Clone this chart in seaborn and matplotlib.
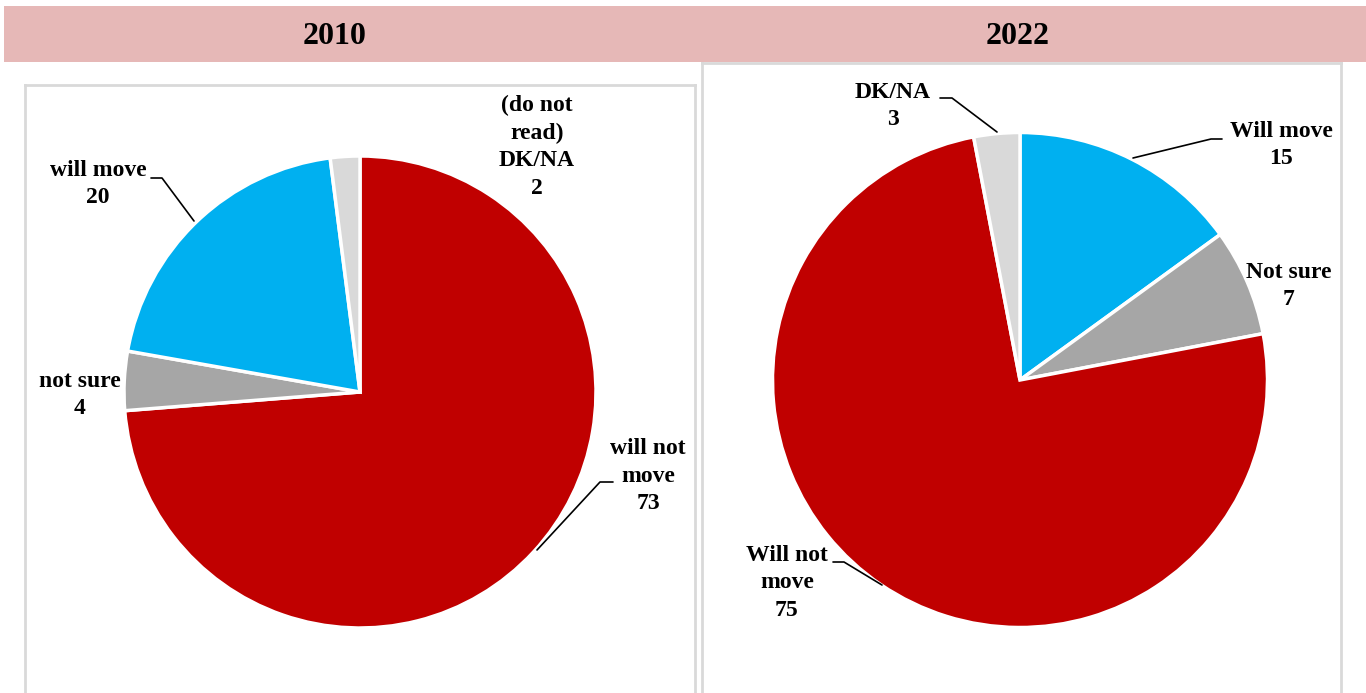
import matplotlib
matplotlib.use("Agg")
import matplotlib.pyplot as plt
import seaborn as sns

# data
years = ["2010", "2022"]
labels_2010 = ["will not\nmove", "not sure", "will move", "(do not\nread)\nDK/NA"]
values_2010 = [73, 4, 20, 2]
labels_2022 = ["Will move", "Not sure", "Will not\nmove", "DK/NA"]
values_2022 = [15, 7, 75, 3]

RED, BLUE, GREY, LIGHT = "#C00000", "#00B0F0", "#A6A6A6", "#D9D9D9"
colors_2010 = [RED, GREY, BLUE, LIGHT]
colors_2022 = [BLUE, GREY, RED, LIGHT]

sns.set_theme(style="white")
plt.rcParams["font.family"] = ["Liberation Serif", "DejaVu Serif"]
plt.rcParams["font.weight"] = "bold"
plt.rcParams["text.color"] = "black"

W, H = 1366, 693
fig = plt.figure(figsize=(W / 100, H / 100), dpi=100)
fig.patch.set_facecolor("white")


def panel(box, center, radius):
    # box = (x0, y0, x1, y1) in pixels, y from top
    x0, y0, x1, y1 = box
    ax = fig.add_axes([x0 / W, (H - y1) / H, (x1 - x0) / W, (y1 - y0) / H])
    cx, cy = center
    conv = lambda px, py: ((px - cx) / radius, (cy - py) / radius)
    return ax, conv, ((x0 - cx) / radius, (x1 - cx) / radius), ((cy - y1) / radius, (cy - y0) / radius)


def draw_pie(ax, values, colors, xlim, ylim):
    ax.pie(values, colors=colors, startangle=90, counterclock=False, radius=1,
           wedgeprops=dict(edgecolor="white", linewidth=2.5))
    ax.set_aspect("auto")
    ax.set_xlim(*xlim)
    ax.set_ylim(*ylim)
    ax.set_frame_on(True)
    for side, sp in ax.spines.items():
        sp.set_visible(side != "bottom")
        sp.set_color("#D9D9D9")
        sp.set_linewidth(2)
    ax.set_xticks([])
    ax.set_yticks([])


def label(ax, conv, text, pos, leader=None):
    x, y = conv(*pos)
    ax.text(x, y, text, ha="center", va="center", fontsize=17, fontweight="bold",
            linespacing=1.4, color="black")
    if leader:
        pts = [conv(*p) for p in leader]
        ax.plot([p[0] for p in pts], [p[1] for p in pts], color="black", lw=1.2)


# header band
band = fig.add_axes([4 / W, (H - 62) / H, (W - 4) / W, 56 / H])
band.set_facecolor("#E6B8B7")
band.set_xlim(4, W)
band.set_ylim(0, 1)
for sp in band.spines.values():
    sp.set_visible(False)
band.set_xticks([])
band.set_yticks([])
band.text(335, 0.45, years[0], ha="center", va="center", fontsize=23, fontweight="bold", color="black")
band.text(1018, 0.45, years[1], ha="center", va="center", fontsize=23, fontweight="bold", color="black")

# 2010
ax1, c1, xl1, yl1 = panel((25, 85, 695, H + 5), (360, 392), 236)
draw_pie(ax1, values_2010, colors_2010, xl1, yl1)
label(ax1, c1, f"{labels_2010[0]}\n{values_2010[0]}", (648, 476),
      [(613, 482), (600, 482), (537, 550)])
label(ax1, c1, f"{labels_2010[1]}\n{values_2010[1]}", (80, 395))
label(ax1, c1, f"{labels_2010[2]}\n{values_2010[2]}", (98, 184),
      [(151, 178), (162, 178), (194, 221)])
label(ax1, c1, f"{labels_2010[3]}\n{values_2010[3]}", (537, 147))

# 2022
ax2, c2, xl2, yl2 = panel((702, 63, 1341, H + 5), (1020, 380), 247.5)
draw_pie(ax2, values_2022, colors_2022, xl2, yl2)
label(ax2, c2, f"{labels_2022[0]}\n{values_2022[0]}", (1281, 145),
      [(1222, 139), (1211, 139), (1133, 158)])
label(ax2, c2, f"{labels_2022[1]}\n{values_2022[1]}", (1289, 286))
label(ax2, c2, f"{labels_2022[2]}\n{values_2022[2]}", (787, 583),
      [(833, 562), (844, 562), (882, 585)])
label(ax2, c2, f"{labels_2022[3]}\n{values_2022[3]}", (893, 106),
      [(940, 98), (952, 98), (997, 132)])

fig.savefig("out.png", dpi=100, facecolor="white")
